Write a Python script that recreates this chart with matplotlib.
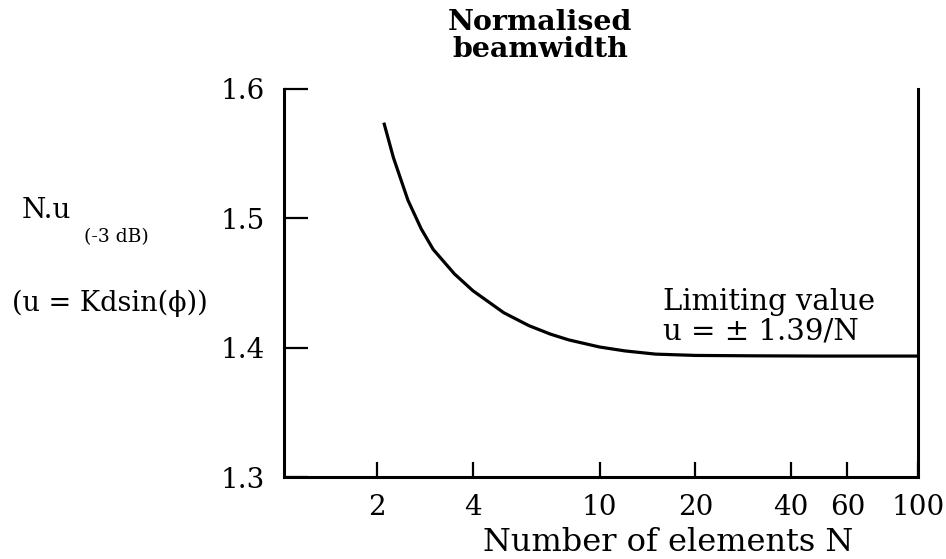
import matplotlib
matplotlib.use("Agg")
import matplotlib.pyplot as plt

plt.rcParams['font.family'] = ['DejaVu Serif']

# normalised -3 dB beamwidth N.u against number of array elements
n_elements = [2.1, 2.25, 2.5, 2.75, 3.0, 3.5, 4.0, 5.0, 6.0, 7.0, 8.0,
              10, 12, 15, 20, 30, 50, 100]
beamwidth = [1.574, 1.547, 1.514, 1.492, 1.476, 1.457, 1.444, 1.427, 1.417,
             1.4105, 1.406, 1.4005, 1.3975, 1.395, 1.394, 1.3937, 1.3935, 1.3935]

x_ticks = [2, 4, 10, 20, 40, 60, 100]
y_ticks = [1.3, 1.4, 1.5, 1.6]

fig = plt.figure(figsize=(9.46, 5.59), dpi=100)
ax = fig.add_axes([284 / 946, 1 - 477 / 559, (918 - 284) / 946, (477 - 89) / 559])

ax.plot(n_elements, beamwidth, color='black', lw=2.3, solid_capstyle='butt')

ax.set_xscale('log')
ax.set_xlim(1.02, 100)
ax.set_ylim(1.3, 1.6)
ax.set_xticks(x_ticks)
ax.set_xticklabels([str(t) for t in x_ticks])
ax.xaxis.set_minor_locator(matplotlib.ticker.NullLocator())
ax.set_yticks(y_ticks)
ax.set_yticklabels([f'{t:.1f}' for t in y_ticks])

ax.spines['top'].set_visible(False)
for s in ['left', 'bottom', 'right']:
    ax.spines[s].set_linewidth(2.2)

ax.tick_params(axis='y', direction='in', length=17, width=1.6, labelsize=20, pad=14)
ax.tick_params(axis='x', direction='in', length=11, width=1.6, labelsize=20, pad=12)

# axis captions
fig.text(668 / 946, 1 / 559, 'Number of elements N', ha='center', va='bottom',
         fontsize=23)

fig.text(540 / 946, 1 - 9 / 559, 'Normalised\nbeamwidth', ha='center', va='top',
         fontsize=20.5, fontweight='bold', linespacing=1.0)

fig.text(22 / 946, 1 - 218 / 559, 'N.u', fontsize=20, va='baseline')
fig.text(84 / 946, 1 - 242 / 559, '(-3 dB)', fontsize=13.5, va='baseline')
fig.text(12 / 946, 1 - 311 / 559, '(u = Kdsin(ϕ))', fontsize=19.5, va='baseline')

# limiting value note
fig.text(663 / 946, 1 - 310 / 559, 'Limiting value', fontsize=21, va='baseline')
fig.text(663 / 946, 1 - 340 / 559, 'u = ± 1.39/N', fontsize=21, va='baseline')

fig.savefig('out.png', dpi=100)
